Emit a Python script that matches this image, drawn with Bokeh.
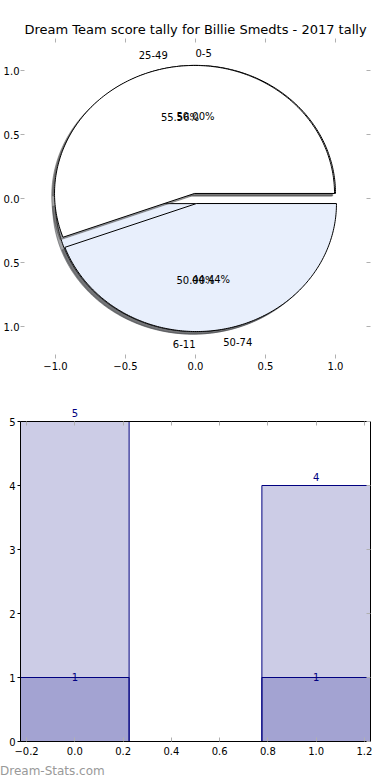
import numpy as np
from bokeh.plotting import figure
from bokeh.models import Range1d, LinearAxis, FixedTicker, ColumnDataSource, LabelSet, Div
from bokeh.layouts import column
from bokeh.core.properties import value
from bokeh.embed import file_html
from bokeh.resources import INLINE

# ---------------- data ----------------
title_text = "Dream Team score tally for Billie Smedts - 2017 tally"
pie1_labels = ["0-5", "6-11"]
pie1_values = [1, 1]
pie2_labels = ["25-49", "50-74"]
pie2_values = [5, 4]
wedge_colors = ["#ffffff", "#e8effc"]
explode = 0.04

bar_x = [0, 1]
bar_totals = [5, 4]
bar_lows = [1, 1]
bar_width = 0.45

pie_ticks = [-1.0, -0.5, 0.0, 0.5, 1.0]
pie_x_tick_labels = ["\u22121.0", "\u22120.5", "0.0", "0.5", "1.0"]
pie_y_tick_labels = ["1.0", "0.5", "0.0", "0.5", "1.0"]  # minus signs cut off at the page edge
bar_x_ticks = [-0.2, 0.0, 0.2, 0.4, 0.6, 0.8, 1.0, 1.2]
bar_x_tick_labels = ["\u22120.2", "0.0", "0.2", "0.4", "0.6", "0.8", "1.0", "1.2"]
bar_y_ticks = [0, 1, 2, 3, 4, 5]
watermark = "Dream-Stats.com"

FONT = "DejaVu Sans"
TICK_GRAY = "#b0b0b0"

# ---------------- pie figure ----------------
p = figure(width=390, height=390, x_range=Range1d(-1.25, 1.25), y_range=Range1d(-1.25, 1.25),
           output_backend="svg", toolbar_location=None,
           min_border_left=20, min_border_right=20, min_border_top=38, min_border_bottom=32)
p.outline_line_color = None
p.grid.visible = False
p.background_fill_color = "white"
p.border_fill_color = "white"
p.title.text = title_text
p.title.align = "center"
p.title.text_font = FONT
p.title.text_font_size = "13px"
p.title.text_font_style = "normal"
p.title.text_color = "black"
p.title.standoff = 4


def style_axis(ax, ticks, labels=None, show_labels=True, tick_in=4, tick_out=0, color=TICK_GRAY):
    ax.ticker = FixedTicker(ticks=ticks)
    ax.axis_line_color = None
    ax.major_tick_in = tick_in
    ax.major_tick_out = tick_out
    ax.major_tick_line_color = color
    ax.minor_tick_line_color = None
    ax.major_label_text_font = FONT
    ax.major_label_text_font_size = "10px"
    ax.major_label_text_color = "black"
    ax.major_label_standoff = 3
    if show_labels and labels is not None:
        ax.major_label_overrides = {t: l for t, l in zip(ticks, labels)}
    if not show_labels:
        ax.major_label_overrides = {t: "" for t in ticks}
        ax.major_label_standoff = 0


style_axis(p.xaxis[0], pie_ticks, pie_x_tick_labels)
style_axis(p.yaxis[0], pie_ticks, pie_y_tick_labels)
p.yaxis[0].major_label_standoff = 1
p.add_layout(LinearAxis(), "above")
p.add_layout(LinearAxis(), "right")
style_axis(p.above[-1], pie_ticks, show_labels=False)
style_axis(p.right[-1], pie_ticks, show_labels=False)


def pie_geometry(values):
    vals = np.asarray(values, dtype=float)
    fr = vals / vals.sum()
    edges = np.concatenate([[0.0], np.cumsum(fr)]) * 2 * np.pi
    xs, ys, lx, ly, la, px, py, pt = [], [], [], [], [], [], [], []
    for i in range(len(vals)):
        t1, t2 = edges[i], edges[i + 1]
        mid = 0.5 * (t1 + t2)
        cx, cy = explode * np.cos(mid), explode * np.sin(mid)
        th = np.linspace(t1, t2, 200)
        xs.append(np.concatenate([[cx], cx + np.cos(th), [cx]]))
        ys.append(np.concatenate([[cy], cy + np.sin(th), [cy]]))
        xt = cx + 1.1 * np.cos(mid)
        yt = cy + 1.1 * np.sin(mid)
        lx.append(xt); ly.append(yt)
        la.append("left" if xt > 0 else "right")
        px.append(cx + 0.6 * np.cos(mid)); py.append(cy + 0.6 * np.sin(mid))
        pt.append("%.2f%%" % (fr[i] * 100))
    return xs, ys, lx, ly, la, px, py, pt


def shade(c):
    c = c.lstrip("#")
    r, g, b = (int(c[k:k + 2], 16) for k in (0, 2, 4))
    return "#%02x%02x%02x" % (int(r * 0.3), int(g * 0.3), int(b * 0.3))


text_jobs = []
for vals, labs in [(pie1_values, pie1_labels), (pie2_values, pie2_labels)]:
    xs, ys, lx, ly, la, px, py, pt = pie_geometry(vals)
    cols = wedge_colors[:len(vals)]
    p.patches([x - 0.02 for x in xs], [y - 0.02 for y in ys],
              fill_color=[shade(c) for c in cols], fill_alpha=0.5,
              line_color=[shade(c) for c in cols], line_alpha=0.5)
    p.patches(xs, ys, fill_color=cols, line_color="black", line_width=1)
    text_jobs.append((lx, ly, list(labs), la, px, py, pt))

for lx, ly, labs, la, px, py, pt in text_jobs:
    src = ColumnDataSource(dict(x=lx, y=ly, t=labs, a=la))
    p.text(x="x", y="y", text="t", text_align="a", text_baseline="middle", source=src,
           text_font=value(FONT), text_font_size="10px", text_color="black")
    src2 = ColumnDataSource(dict(x=px, y=py, t=pt))
    p.text(x="x", y="y", text="t", text_align="center", text_baseline="middle", source=src2,
           text_font=value(FONT), text_font_size="10px", text_color="black")

# ---------------- bar figure ----------------
x_lo = min(bar_x) - bar_width / 2
x_hi = max(bar_x) + bar_width / 2
y_top = max(bar_totals)
y_room = y_top * 1.05  # head-room so the value label above the tallest bar stays visible
b = figure(width=390, height=373, x_range=Range1d(x_lo, x_hi), y_range=Range1d(0, y_room),
           output_backend="svg", toolbar_location=None,
           min_border_left=20, min_border_right=20, min_border_top=15, min_border_bottom=22)
b.outline_line_color = None
b.grid.visible = False
b.vbar(x=bar_x, top=bar_totals, width=bar_width, fill_color="navy", fill_alpha=0.2,
       line_color="navy", line_width=1)
b.vbar(x=bar_x, top=bar_lows, width=bar_width, fill_color="navy", fill_alpha=0.2,
       line_color="navy", line_width=1)

style_axis(b.xaxis[0], bar_x_ticks, bar_x_tick_labels)
b.xaxis[0].major_label_standoff = 5
b.xaxis[0].axis_line_color = "black"
style_axis(b.yaxis[0], bar_y_ticks, [str(v) for v in bar_y_ticks], tick_in=0, tick_out=3, color="black")
b.yaxis[0].major_label_standoff = 2
b.yaxis[0].axis_line_color = "black"
b.yaxis[0].bounds = (0, y_top)
top_axis = LinearAxis()
b.add_layout(top_axis, "above")
style_axis(top_axis, bar_x_ticks, show_labels=False)
top_axis.axis_line_color = "black"
top_axis.fixed_location = y_top
right_axis = LinearAxis()
b.add_layout(right_axis, "right")
style_axis(right_axis, bar_y_ticks, show_labels=False)
right_axis.axis_line_color = "black"
right_axis.bounds = (0, y_top)

top_src = ColumnDataSource(dict(x=bar_x, y=bar_totals, t=[str(v) for v in bar_totals]))
b.add_layout(LabelSet(x="x", y="y", text="t", source=top_src, text_align="center",
                      text_baseline="alphabetic", y_offset=5, text_font=value(FONT),
                      text_font_size="10px", text_color="navy"))
low_src = ColumnDataSource(dict(x=bar_x, y=bar_lows, t=[str(v) for v in bar_lows]))
b.add_layout(LabelSet(x="x", y="y", text="t", source=low_src, text_align="center",
                      text_baseline="middle", y_offset=1, text_font=value(FONT),
                      text_font_size="10px", text_color="navy"))

wm = Div(text=watermark, width=390, height=17, margin=(0, 0, 0, 0),
         styles={"font-family": FONT, "font-size": "12px", "color": "#999999",
                 "line-height": "14px", "padding-top": "1px", "margin": "0"})

layout = column(p, b, wm, spacing=0)
open("out.html", "w").write(file_html(layout, INLINE))
